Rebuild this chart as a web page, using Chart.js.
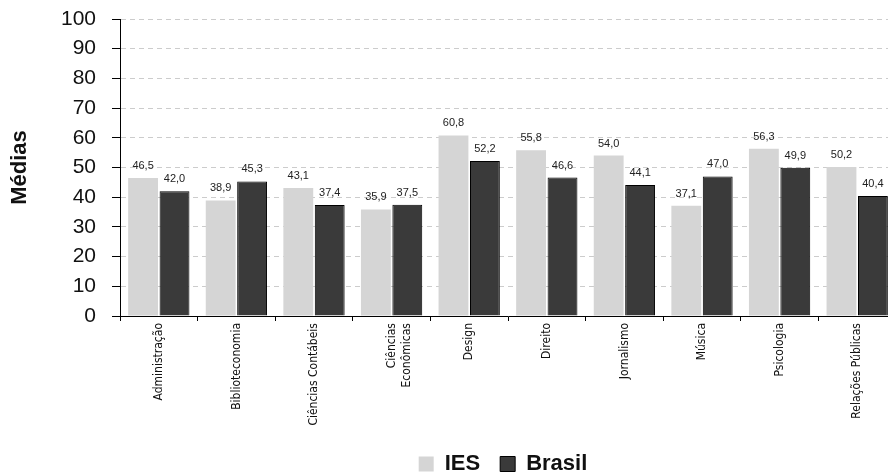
<!DOCTYPE html>
<html>
<head>
<meta charset="utf-8">
<script src="https://cdn.jsdelivr.net/npm/chart.js@4"></script>
<style>
  html, body { margin: 0; padding: 0; background: #fff; overflow: hidden; }
  #wrap { width: 896px; height: 472px; }
</style>
</head>
<body>
<div id="wrap"><canvas id="c" width="896" height="472"></canvas></div>
<script>
const categories = ['Administração', 'Biblioteconomia', 'Ciências Contábeis', ['Ciências', 'Econômicas'], 'Design', 'Direito', 'Jornalismo', 'Música', 'Psicologia', 'Relações Públicas'];
const iesValues = [46.5, 38.9, 43.1, 35.9, 60.8, 55.8, 54.0, 37.1, 56.3, 50.2];
const brasilValues = [42.0, 45.3, 37.4, 37.5, 52.2, 46.6, 44.1, 47.0, 49.9, 40.4];
const seriesNames = ['IES', 'Brasil'];
const yTicks = [0, 10, 20, 30, 40, 50, 60, 70, 80, 90, 100];

const valueLabels = {
  id: 'valueLabels',
  afterDatasetsDraw(chart) {
    const ctx = chart.ctx;
    ctx.save();
    ctx.font = '11px "Liberation Sans", Arial, sans-serif';
    ctx.fillStyle = '#222';
    ctx.textAlign = 'center';
    ctx.textBaseline = 'alphabetic';
    chart.data.datasets.forEach((ds, i) => {
      const meta = chart.getDatasetMeta(i);
      meta.data.forEach((bar, j) => {
        const v = ds.data[j];
        ctx.fillText(v.toFixed(1).replace('.', ','), bar.x, bar.y - 9);
      });
    });
    ctx.restore();
  }
};

const legendShift = {
  id: 'legendShift',
  afterLayout(chart) {
    const lg = chart.legend;
    if (!lg) return;
    const dx = 55, dy = 13;
    lg.left += dx; lg.right += dx;
    lg.top += dy; lg.bottom += dy;
  }
};

new Chart(document.getElementById('c'), {
  type: 'bar',
  data: {
    labels: categories,
    datasets: [
      { label: seriesNames[0], data: iesValues, backgroundColor: '#d5d5d5', borderColor: '#d5d5d5', borderWidth: 0 },
      { label: seriesNames[1], data: brasilValues, backgroundColor: '#3a3a3a', borderColor: '#000', borderWidth: 1 }
    ]
  },
  options: {
    responsive: false,
    animation: false,
    devicePixelRatio: 1,
    layout: { padding: { top: 19, left: 0, right: 0, bottom: 0 } },
    datasets: { bar: { categoryPercentage: 0.81, barPercentage: 0.95 } },
    plugins: {
      legend: {
        position: 'bottom',
        labels: {
          boxWidth: 15, boxHeight: 15, padding: 20,
          color: '#111',
          font: { family: '"Liberation Sans", Arial, sans-serif', size: 22, weight: 'bold' }
        }
      },
      tooltip: { enabled: false }
    },
    scales: {
      x: {
        grid: { display: true, drawOnChartArea: false, offset: true, drawTicks: true, tickLength: 5, color: '#000' },
        border: { display: true, color: '#000', width: 1 },
        ticks: {
          autoSkip: false, minRotation: 90, maxRotation: 90, padding: 2, color: '#111',
          font: { family: '"DejaVu Sans Condensed", "Liberation Sans Narrow", sans-serif', size: 12, lineHeight: 1.25 }
        },
        afterFit(scale) {
          scale.paddingLeft = 0; scale.paddingRight = 0;
          const lh = scale.chart.legend ? scale.chart.legend.height : 0;
          scale.height = 472 - 316 - lh;
          scale._computeLabelArea = () => undefined;
        }
      },
      y: {
        min: 0, max: 100,
        afterBuildTicks(scale) { scale.ticks = yTicks.map(v => ({ value: v })); },
        grid: { color: '#cccccc', tickColor: '#000', drawTicks: true, tickLength: 8, lineWidth: 1 },
        border: { display: true, color: '#000', width: 1, dash: [5, 4] },
        ticks: {
          padding: 16, color: '#111',
          font: { family: '"Liberation Sans", Arial, sans-serif', size: 21 }
        },
        title: {
          display: true, text: 'Médias', color: '#111',
          font: { family: '"Liberation Sans", Arial, sans-serif', size: 22, weight: 'bold' },
          padding: { top: 7, bottom: 0 }
        },
        afterFit(scale) {
          scale.width = 120;
          scale.paddingTop = 0; scale.paddingBottom = 0;
        }
      }
    }
  },
  plugins: [valueLabels, legendShift]
});
</script>
</body>
</html>
